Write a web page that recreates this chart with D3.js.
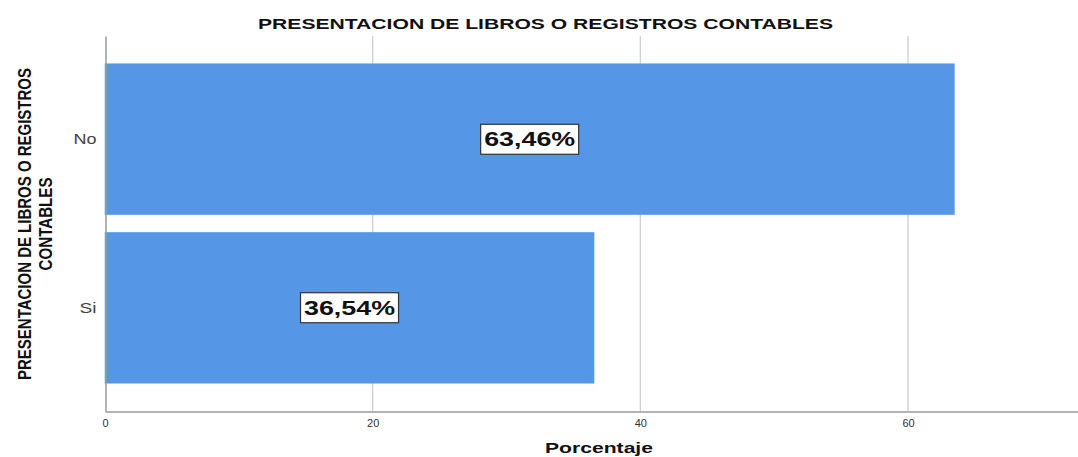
<!DOCTYPE html>
<html><head><meta charset="utf-8">
<script src="https://cdn.jsdelivr.net/npm/d3@7"></script>
<style>body{margin:0;background:#fff}svg{display:block}</style>
</head><body>
<svg id="c" width="1078" height="457"></svg>
<script>
const categories = ["No", "Si"];
const values = [63.46, 36.54];
const labels = ["63,46%", "36,54%"];
const xTicks = [0, 20, 40, 60];
const title = "PRESENTACION DE LIBROS O REGISTROS CONTABLES";
const yTitle = ["PRESENTACION DE LIBROS O REGISTROS", "CONTABLES"];
const xTitle = "Porcentaje";

const svg = d3.select("#c");
const x = d3.scaleLinear().domain([0, 72.7]).range([105, 1078]);
const y = d3.scaleBand().domain(categories).range([36, 411]).paddingInner(0.104).paddingOuter(0.165);

// grid
svg.append("g").selectAll("line").data(xTicks.filter(d => d > 0)).join("line")
  .attr("x1", d => x(d)).attr("x2", d => x(d)).attr("y1", 36).attr("y2", 411)
  .attr("stroke", "#cfcfcf").attr("stroke-width", 1.3);

// bars
svg.append("g").selectAll("rect").data(values).join("rect")
  .attr("x", x(0)).attr("y", (d, i) => y(categories[i]))
  .attr("width", d => x(d) - x(0)).attr("height", y.bandwidth())
  .attr("fill", "#5596e6").attr("stroke", "#6aa3ea").attr("stroke-width", 0.6);

// x axis
const xa = svg.append("g").attr("transform", "translate(0,411.5)")
  .call(d3.axisBottom(x).tickValues(xTicks).tickSize(0).tickPadding(8).tickFormat(d3.format("d")));
xa.select(".domain").attr("stroke", "#9a9a9a").attr("stroke-width", 1.5);
xa.selectAll("text").attr("font-family", "Liberation Sans, Arial, sans-serif")
  .attr("font-size", 11).attr("fill", "#333");

// y axis
const ya = svg.append("g").attr("transform", "translate(105.5,0)")
  .call(d3.axisLeft(y).tickSize(0).tickPadding(9));
ya.select(".domain").attr("stroke", "#9a9a9a").attr("stroke-width", 1.5);
ya.selectAll("text").attr("font-family", "Liberation Sans, Arial, sans-serif")
  .attr("font-size", 15.5).attr("fill", "#444")
  .attr("textLength", d => d === "No" ? 23 : 17).attr("lengthAdjust", "spacingAndGlyphs");

// data labels
const lg = svg.append("g").selectAll("g").data(values).join("g")
  .attr("transform", (d, i) => `translate(${(x(0) + x(d)) / 2},${y(categories[i]) + y.bandwidth() / 2})`);
lg.append("rect").attr("x", -49).attr("y", -15).attr("width", 98).attr("height", 30)
  .attr("fill", "#fff").attr("stroke", "#333").attr("stroke-width", 1.2);
lg.append("text").text((d, i) => labels[i]).attr("text-anchor", "middle").attr("dy", "0.36em")
  .attr("font-family", "Liberation Sans, Arial, sans-serif").attr("font-weight", "bold")
  .attr("font-size", 20).attr("fill", "#111")
  .attr("textLength", 91).attr("lengthAdjust", "spacingAndGlyphs");

// title
svg.append("text").text(title).attr("x", 545.5).attr("y", 29).attr("text-anchor", "middle")
  .attr("font-family", "Liberation Sans, Arial, sans-serif").attr("font-weight", "bold")
  .attr("font-size", 15).attr("fill", "#111").attr("textLength", 575).attr("lengthAdjust", "spacingAndGlyphs");

// x title
svg.append("text").text(xTitle).attr("x", 599).attr("y", 453).attr("text-anchor", "middle")
  .attr("font-family", "Liberation Sans, Arial, sans-serif").attr("font-weight", "bold")
  .attr("font-size", 15.5).attr("fill", "#111")
  .attr("textLength", 108).attr("lengthAdjust", "spacingAndGlyphs");

// y title: horizontally condensed via scale transform
const targetLen = [312, 93];
const centers = [24, 45];
yTitle.forEach((t, i) => {
  const g = svg.append("g");
  const tx = g.append("text").text(t).attr("text-anchor", "middle").attr("dy", "0.35em")
    .attr("font-family", "Liberation Sans, Arial, sans-serif").attr("font-weight", "bold")
    .attr("font-size", 19).attr("fill", "#111");
  const w = tx.node().getComputedTextLength();
  const s = targetLen[i] / w;
  g.attr("transform", `translate(${centers[i]},224) rotate(-90) scale(${s},1)`);
});
</script>
</body></html>
